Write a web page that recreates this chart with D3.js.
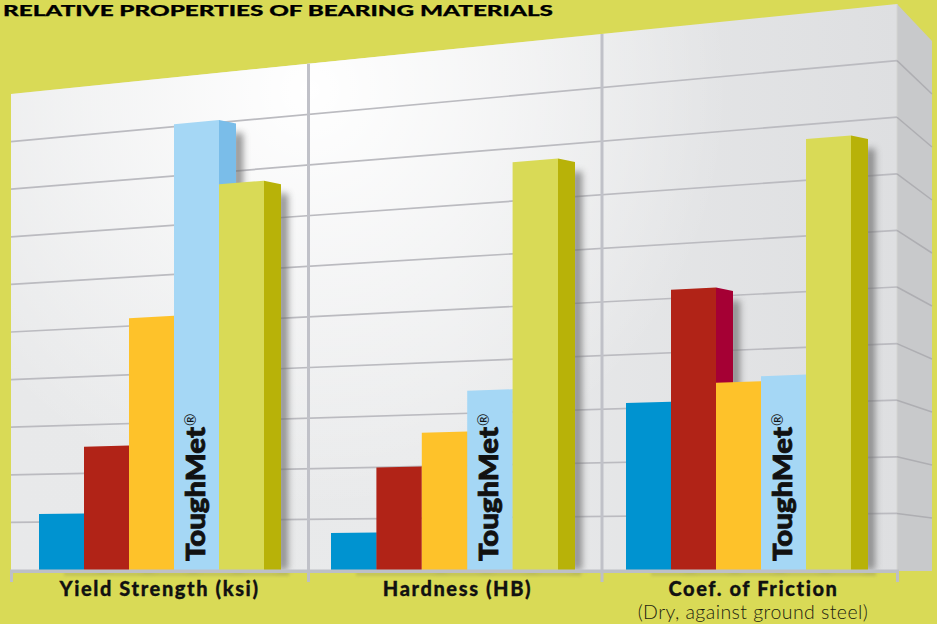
<!DOCTYPE html>
<html>
<head>
<meta charset="utf-8">
<script src="https://cdn.jsdelivr.net/npm/d3@7"></script>
<style>
  html, body { margin: 0; padding: 0; background: #d9da56; }
  svg { display: block; }
  text { font-family: Lato, "Open Sans", sans-serif; fill: #111; }
</style>
</head>
<body>
<div id="chart"></div>
<script>
const titleText = "RELATIVE PROPERTIES OF BEARING MATERIALS";
const categories = ["Yield Strength (ksi)", "Hardness (HB)", "Coef. of Friction"];
const subLabels = ["", "", "(Dry, against ground steel)"];
const materials = ["a", "b", "c", "ToughMet", "e"];
const gridLevels = [1, 2, 3, 4, 5, 6, 7, 8, 9];

// Relative heights, 10 = top of the back wall
const seriesA = [1.17, 0.73, 3.10];
const seriesB = [2.55, 2.00, 5.16];
const seriesC = [5.16, 2.65, 3.42];
const seriesToughMet = [9.05, 3.43, 3.51];
const seriesE = [7.76, 7.74, 7.74];
const allSeries = [seriesA, seriesB, seriesC, seriesToughMet, seriesE];

const frontColors = ["#0093d0", "#b12317", "#fec22a", "#a5d7f5", "#d9da56"];
const sideColors = ["#0080b8", "#a50034", "#e8a81c", "#7abde9", "#b8b208"];

const width = 937, height = 624;
const wallLeft = 11, wallRight = 897, sideRight = 932;
const sideDepth = 17, sideDrop = 3.5;

const svg = d3.select("#chart").append("svg")
    .attr("width", width)
    .attr("height", height)
    .attr("viewBox", `0 0 ${width} ${height}`);

// The back wall is in perspective: value scales for its two edges, blended by x
const yLeft = d3.scaleLinear().domain([0, 10]).range([570, 94]);
const yRight = d3.scaleLinear().domain([0, 10]).range([570, 4]);
const ySide = d3.scaleLinear().domain([0, 10]).range([571, 41]);
const xFrac = d3.scaleLinear().domain([wallLeft, wallRight]).range([0, 1]);
const yAt = (v, x) => d3.interpolateNumber(yLeft(v), yRight(v))(xFrac(x));

const groupStart = d3.scaleOrdinal().domain(categories).range([39, 331, 626]);
const groupEnd = d3.scaleOrdinal().domain(categories).range([264, 558, 851]);
const labelX = d3.scaleOrdinal().domain(categories).range([159, 457, 753]);
const edgeX = d3.scaleOrdinal().domain([0, 1, 2, 3]).range([11.5, 308.5, 602, 897.5]);
const barScale = cat => d3.scaleBand().domain(materials).range([groupStart(cat), groupEnd(cat)]);

const defs = svg.append("defs");

const wallGrad = defs.append("linearGradient").attr("id", "wallGrad");
wallGrad.append("stop").attr("offset", "0%").attr("stop-color", "#e8e9ea");
wallGrad.append("stop").attr("offset", "50%").attr("stop-color", "#e9eaeb");
wallGrad.append("stop").attr("offset", "100%").attr("stop-color", "#dedfe1");

const glow = defs.append("radialGradient").attr("id", "wallGlow")
    .attr("gradientUnits", "userSpaceOnUse")
    .attr("cx", 310).attr("cy", 90).attr("r", 420);
glow.append("stop").attr("offset", "0%").attr("stop-color", "#fff").attr("stop-opacity", 1);
glow.append("stop").attr("offset", "100%").attr("stop-color", "#fff").attr("stop-opacity", 0);

defs.append("filter").attr("id", "blur")
    .attr("x", "-150%").attr("width", "400%")
    .append("feGaussianBlur").attr("stdDeviation", 3.5);
defs.append("filter").attr("id", "blurBase")
    .attr("y", "-200%").attr("height", "500%")
    .append("feGaussianBlur").attr("stdDeviation", 1.5);

// Walls
const wallPoints = [[wallLeft, yLeft(0)], [wallLeft, yLeft(10)], [wallRight, yRight(10)], [wallRight, yRight(0)]];
svg.append("polygon").attr("points", wallPoints.join(" ")).attr("fill", "url(#wallGrad)");
svg.append("polygon").attr("points", wallPoints.join(" ")).attr("fill", "url(#wallGlow)");
svg.append("polygon")
    .attr("points", [[wallRight, yRight(0) + 1], [wallRight, yRight(10)], [sideRight, ySide(10)], [sideRight, ySide(0)]].join(" "))
    .attr("fill", "#c8c9cb");
svg.append("line")
    .attr("x1", wallRight).attr("x2", wallRight)
    .attr("y1", yRight(10)).attr("y2", yRight(0))
    .attr("stroke", "#d4d5d2").attr("stroke-width", 1);

// Grid lines, back wall and side wall
svg.selectAll("line.grid").data(gridLevels).enter().append("line")
    .attr("class", "grid")
    .attr("x1", wallLeft).attr("x2", wallRight)
    .attr("y1", d => yLeft(d)).attr("y2", d => yRight(d))
    .attr("stroke", "#bbbbc0").attr("stroke-width", 1.7);
svg.selectAll("line.side-grid").data(gridLevels).enter().append("line")
    .attr("class", "side-grid")
    .attr("x1", wallRight).attr("x2", sideRight)
    .attr("y1", d => yRight(d)).attr("y2", d => ySide(d))
    .attr("stroke", "#aeaeb2").attr("stroke-width", 1.5);

// Panel dividers
svg.selectAll("line.divider").data([1, 2]).enter().append("line")
    .attr("class", "divider")
    .attr("x1", d => edgeX(d)).attr("x2", d => edgeX(d))
    .attr("y1", d => yAt(10, edgeX(d))).attr("y2", yLeft(0))
    .attr("stroke", "#c0c1c8").attr("stroke-width", 3);

// Flatten to one record per bar
const bars = [];
categories.forEach((cat, i) => {
    const barX = barScale(cat);
    materials.forEach((m, j) => {
        const x0 = barX(m);
        const x1 = x0 + barX.bandwidth();
        bars.push({cat, m, j, x0, x1, value: allSeries[j][i]});
    });
});

// Shadows go first so the neighbouring bars cover them
svg.append("g").selectAll("rect").data(bars).enter().append("rect")
    .attr("x", d => d.x1 + sideDepth - 3)
    .attr("width", 10)
    .attr("y", d => yAt(d.value, d.x1) + 13)
    .attr("height", d => yLeft(0) - yAt(d.value, d.x1) - 13)
    .attr("fill", "#707070")
    .attr("opacity", 0.75)
    .attr("filter", "url(#blur)");

const barLayer = svg.append("g");
bars.forEach(d => {
    const yTop0 = yAt(d.value, d.x0);
    const yTop1 = yAt(d.value, d.x1);
    barLayer.append("polygon")
        .attr("points", [[d.x1, yTop1], [d.x1 + sideDepth, yTop1 + sideDrop], [d.x1 + sideDepth, yLeft(0)], [d.x1, yLeft(0)]].join(" "))
        .attr("fill", sideColors[d.j]);
    barLayer.append("polygon")
        .attr("points", [[d.x0, yTop0], [d.x1, yTop1], [d.x1, yLeft(0)], [d.x0, yLeft(0)]].join(" "))
        .attr("fill", frontColors[d.j]);
});

// Soft shadow under the base rail
svg.append("g").selectAll("rect").data(categories).enter().append("rect")
    .attr("x", d => groupStart(d) + 25)
    .attr("width", 225)
    .attr("y", 572)
    .attr("height", 4)
    .attr("fill", "#8d8d55")
    .attr("opacity", 0.3)
    .attr("filter", "url(#blurBase)");

// Base rail and its ticks
svg.append("rect")
    .attr("x", edgeX(0) - 1.5).attr("width", edgeX(3) - edgeX(0) + 3)
    .attr("y", 569.5).attr("height", 3.5)
    .attr("fill", "#bdbfc6");
svg.selectAll("line.edge").data(edgeX.domain()).enter().append("line")
    .attr("class", "edge")
    .attr("x1", d => edgeX(d)).attr("x2", d => edgeX(d))
    .attr("y1", 570).attr("y2", 582)
    .attr("stroke", "#bdbfc6").attr("stroke-width", 3);

// Title
svg.append("text")
    .attr("x", 3).attr("y", 15.5)
    .attr("font-size", 15.5)
    .attr("font-weight", 900)
    .attr("textLength", 550)
    .attr("lengthAdjust", "spacingAndGlyphs")
    .style("fill", "#000")
    .style("stroke", "#000")
    .style("stroke-width", 0.25)
    .text(titleText);

// Category labels through a bottom axis
const axis = svg.append("g")
    .attr("transform", "translate(0,577.3)")
    .call(d3.axisBottom(labelX).tickSize(0).tickPadding(4));
axis.select(".domain").remove();
axis.selectAll("text")
    .attr("font-size", 20)
    .attr("font-weight", 900)
    .attr("letter-spacing", "1.6px")
    .style("font-family", "Lato, sans-serif")
    .style("fill", "#111")
    .style("stroke", "#111")
    .style("stroke-width", 0.3);

svg.selectAll("text.sub").data(categories).enter().append("text")
    .attr("class", "sub")
    .attr("x", d => labelX(d))
    .attr("y", 619)
    .attr("text-anchor", "middle")
    .attr("font-size", 19.5)
    .attr("font-weight", 300)
    .attr("letter-spacing", "0.45px")
    .style("fill", "#1c1c10")
    .text((d, i) => subLabels[i]);

// Rotated brand label on the light blue bars
const brand = svg.selectAll("g.brand").data(categories).enter().append("g")
    .attr("class", "brand")
    .attr("transform", d => {
        const barX = barScale(d);
        return `translate(${barX("ToughMet") + barX.bandwidth() / 2 + 8},561) rotate(-90)`;
    });
brand.append("text")
    .attr("font-size", 26)
    .attr("font-weight", 900)
    .attr("textLength", 134)
    .attr("lengthAdjust", "spacingAndGlyphs")
    .style("stroke", "#111")
    .style("stroke-width", 0.8)
    .text("ToughMet");
brand.append("text")
    .attr("x", 135)
    .attr("y", -9)
    .attr("font-size", 15)
    .attr("font-weight", 400)
    .text("®");
</script>
</body>
</html>
